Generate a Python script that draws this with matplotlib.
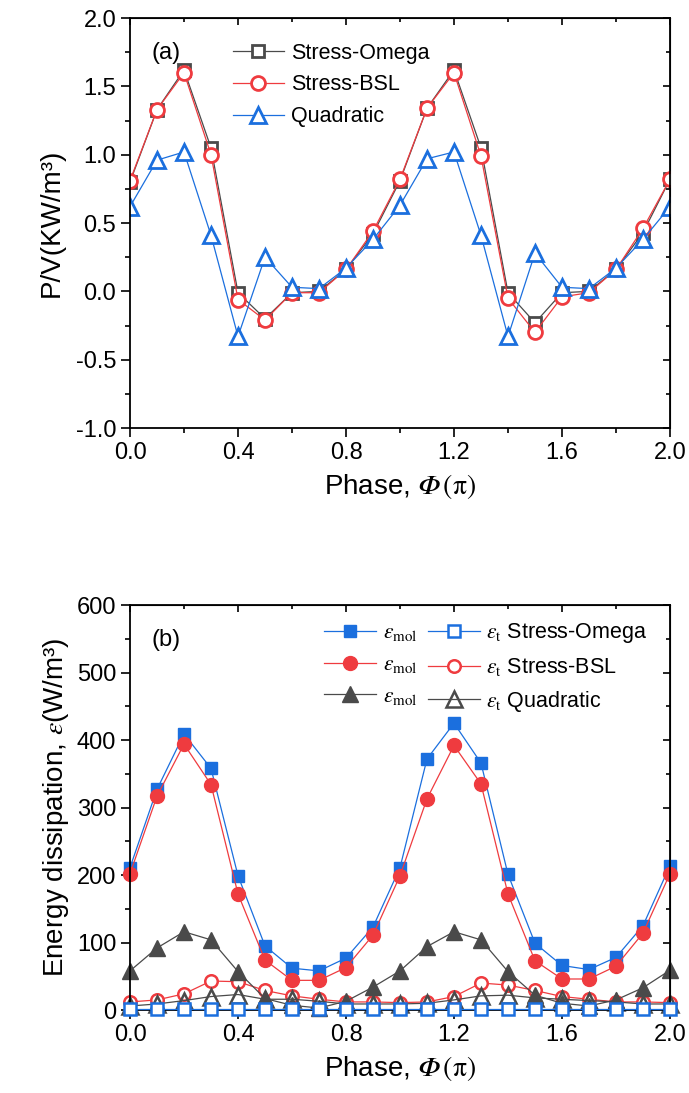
import numpy as np
import matplotlib
matplotlib.use('Agg')
import matplotlib.pyplot as plt
from matplotlib.ticker import MultipleLocator

plt.rcParams['font.family'] = ['Liberation Sans', 'DejaVu Sans']
plt.rcParams['mathtext.fontset'] = 'stix'

# phase in units of pi
phase = [0.0, 0.1, 0.2, 0.3, 0.4, 0.5, 0.6, 0.7, 0.8, 0.9, 1.0,
         1.1, 1.2, 1.3, 1.4, 1.5, 1.6, 1.7, 1.8, 1.9, 2.0]

# (a) power per volume, KW/m3
pv_omega = [0.80, 1.33, 1.62, 1.05, -0.01, -0.20, -0.01, 0.00, 0.16, 0.42, 0.81,
            1.34, 1.62, 1.05, -0.01, -0.23, -0.01, 0.00, 0.16, 0.43, 0.82]
pv_bsl = [0.81, 1.33, 1.60, 1.00, -0.06, -0.21, -0.01, -0.01, 0.16, 0.44, 0.82,
          1.34, 1.60, 0.99, -0.05, -0.30, -0.04, -0.01, 0.16, 0.46, 0.82]
pv_quad = [0.62, 0.96, 1.02, 0.41, -0.33, 0.25, 0.03, 0.02, 0.17, 0.38, 0.63,
           0.97, 1.02, 0.41, -0.33, 0.28, 0.03, 0.02, 0.17, 0.38, 0.62]

# (b) energy dissipation, W/m3
mol_omega = [211, 327, 409, 358, 199, 95, 62, 58, 77, 123, 211,
             372, 425, 366, 201, 99, 66, 60, 78, 125, 214]
mol_bsl = [202, 317, 394, 334, 172, 74, 44, 44, 63, 111, 199,
           313, 392, 335, 172, 73, 46, 46, 65, 114, 202]
mol_quad = [58, 92, 116, 104, 57, 17, 7, 3, 13, 34, 58,
            94, 116, 104, 57, 22, 10, 6, 15, 33, 59]
t_omega = [1, 1, 1, 1, 1, 1, 1, 1, 1, 1, 1,
           1, 1, 1, 1, 1, 1, 1, 1, 1, 1]
t_bsl = [12, 15, 24, 43, 42, 29, 21, 16, 12, 12, 11,
         12, 20, 40, 37, 29, 20, 16, 12, 12, 11]
t_quad = [6, 9, 14, 20, 23, 16, 16, 13, 9, 9, 9,
          10, 15, 21, 22, 18, 16, 14, 12, 9, 9]

blue = '#1b6fde'
red = '#ef3b3f'
gray = '#4a4a4a'

fig = plt.figure(figsize=(6.89, 10.93), dpi=100)
ax1 = fig.add_axes([0.1887, 0.6084, 0.7837, 0.3751])
ax2 = fig.add_axes([0.1887, 0.0759, 0.7837, 0.3705])


def style_axes(ax, ymaj, ymin):
    ax.set_xlim(0, 2)
    ax.xaxis.set_major_locator(MultipleLocator(0.4))
    ax.xaxis.set_minor_locator(MultipleLocator(0.2))
    ax.yaxis.set_major_locator(MultipleLocator(ymaj))
    ax.yaxis.set_minor_locator(MultipleLocator(ymin))
    ax.tick_params(which='both', direction='out', width=1.2, labelsize=17,
                   top=False, right=False)
    ax.tick_params(which='major', length=6.5)
    ax.tick_params(which='minor', length=3.5)
    for s in ax.spines.values():
        s.set_linewidth(1.3)
    # mirrored ticks pointing inward on top and right
    top = ax.secondary_xaxis('top')
    top.xaxis.set_major_locator(MultipleLocator(0.4))
    top.xaxis.set_minor_locator(MultipleLocator(0.2))
    top.tick_params(which='both', direction='in', width=1.2, labeltop=False)
    top.tick_params(which='major', length=5)
    top.tick_params(which='minor', length=3)
    right = ax.secondary_yaxis('right')
    right.yaxis.set_major_locator(MultipleLocator(ymaj))
    right.yaxis.set_minor_locator(MultipleLocator(ymin))
    right.tick_params(which='both', direction='in', width=1.2, labelright=False)
    right.tick_params(which='major', length=5)
    right.tick_params(which='minor', length=3)
    ax.set_xlabel('Phase, $\U0001D6F7\\,\\mathrm{(\\pi)}$', fontsize=20, labelpad=6)


# ---- (a)
ax1.plot(phase, pv_omega, color=gray, lw=0.9, marker='s', ms=9, mfc='white',
         mec=gray, mew=2, label='Stress-Omega')
ax1.plot(phase, pv_bsl, color=red, lw=0.9, marker='o', ms=10, mfc='white',
         mec=red, mew=2, label='Stress-BSL')
ax1.plot(phase, pv_quad, color=blue, lw=0.9, marker='^', ms=12, mfc='white',
         mec=blue, mew=2, label='Quadratic')
ax1.set_ylim(-1, 2)
style_axes(ax1, 0.5, 0.25)
ax1.yaxis.set_major_formatter(matplotlib.ticker.FormatStrFormatter('%.1f'))
ax1.xaxis.set_major_formatter(matplotlib.ticker.FormatStrFormatter('%.1f'))
ax1.set_ylabel('P/V(KW/m³)', fontsize=20, labelpad=8)
ax1.text(0.04, 0.915, '(a)', transform=ax1.transAxes, fontsize=17, va='center')
ax1.legend(loc='upper left', bbox_to_anchor=(0.19, 0.94), frameon=False,
           fontsize=15.5, handlelength=2.4, handletextpad=0.3, labelspacing=0.5,
           borderpad=0, borderaxespad=0)

# ---- (b)
kw = dict(lw=0.9, clip_on=False)
l_to, = ax2.plot(phase, t_omega, color=blue, marker='s', ms=8, mfc='white',
                 mec=blue, mew=1.8, zorder=3, **kw)
l_mo, = ax2.plot(phase, mol_omega, color=blue, marker='s', ms=9, mfc=blue,
                 mec=blue, zorder=2, **kw)
l_mb, = ax2.plot(phase, mol_bsl, color=red, marker='o', ms=10, mfc=red,
                 mec=red, zorder=2.1, **kw)
l_tb, = ax2.plot(phase, t_bsl, color=red, marker='o', ms=9, mfc='white',
                 mec=red, mew=1.8, zorder=2.2, **kw)
l_mq, = ax2.plot(phase, mol_quad, color=gray, marker='^', ms=11, mfc=gray,
                 mec=gray, zorder=2.3, **kw)
l_tq, = ax2.plot(phase, t_quad, color=gray, marker='^', ms=11, mfc='none',
                 mec=gray, mew=1.8, zorder=2.4, **kw)
ax2.set_ylim(0, 600)
style_axes(ax2, 100, 50)
ax2.xaxis.set_major_formatter(matplotlib.ticker.FormatStrFormatter('%.1f'))
ax2.set_ylabel('Energy dissipation, $\\varepsilon$(W/m³)', fontsize=20, labelpad=4)
ax2.text(0.04, 0.915, '(b)', transform=ax2.transAxes, fontsize=17, va='center')

handles = [l_mo, l_mb, l_mq, l_to, l_tb, l_tq]
labels = ['$\\varepsilon_{\\rm mol}$', '$\\varepsilon_{\\rm mol}$', '$\\varepsilon_{\\rm mol}$',
          '$\\varepsilon_{\\rm t}$ Stress-Omega', '$\\varepsilon_{\\rm t}$ Stress-BSL',
          '$\\varepsilon_{\\rm t}$ Quadratic']
ax2.legend(handles, labels, ncol=2, loc='upper left', bbox_to_anchor=(0.36, 0.96),
           frameon=False, fontsize=15.5, handlelength=2.4, handletextpad=0.3,
           labelspacing=0.5, columnspacing=0.5, borderpad=0, borderaxespad=0)

fig.savefig('out.png', dpi=100)
